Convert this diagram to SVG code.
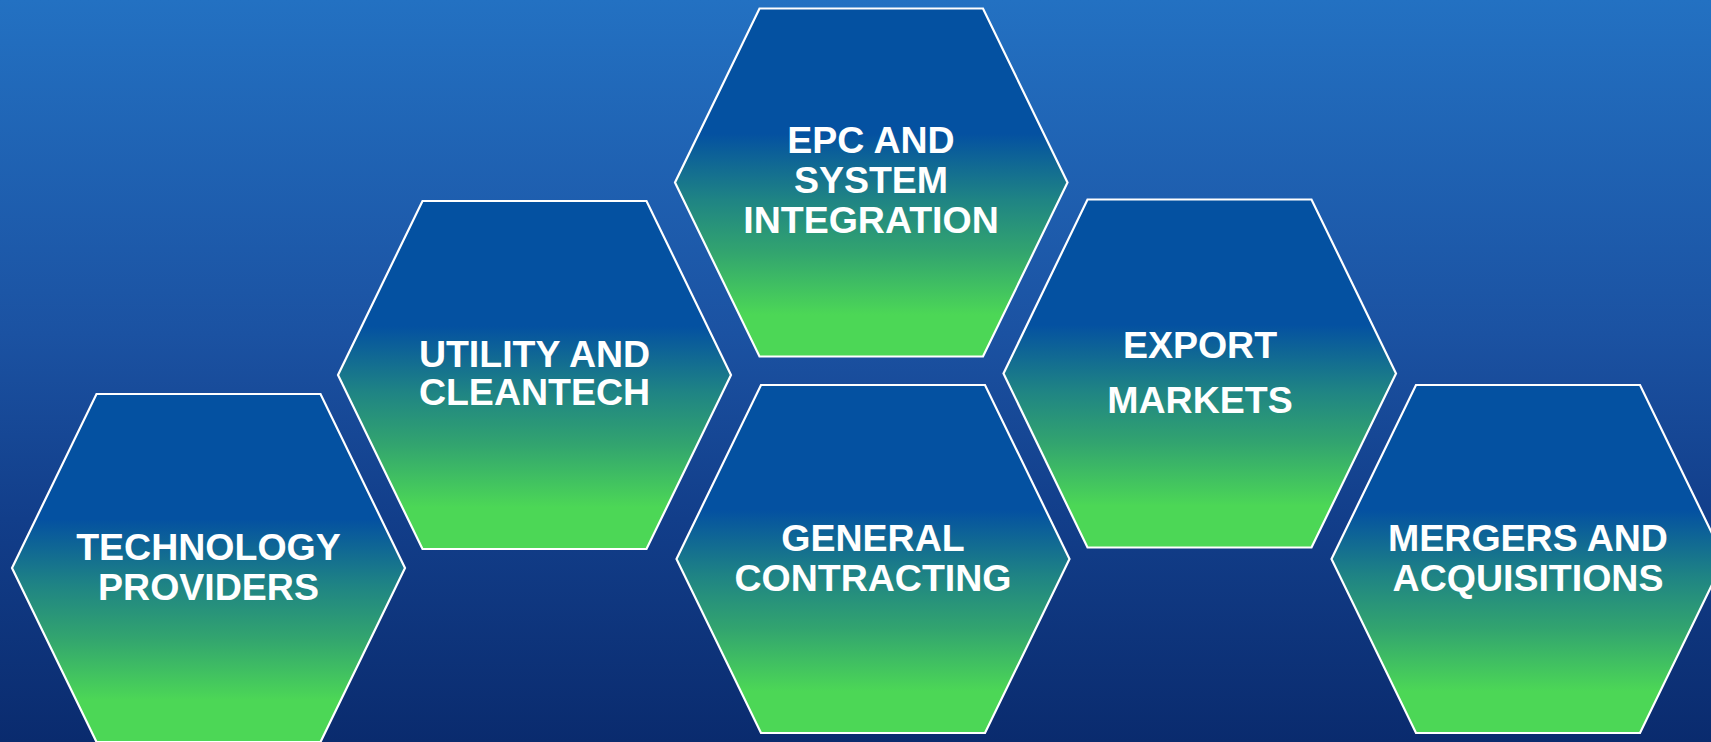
<svg xmlns="http://www.w3.org/2000/svg" width="1711" height="742" viewBox="0 0 1711 742">
<defs>
<linearGradient id="bg" x1="0" y1="0" x2="0" y2="1">
<stop offset="0" stop-color="#2371C2"/>
<stop offset="0.45" stop-color="#1B52A2"/>
<stop offset="0.7" stop-color="#123E8A"/>
<stop offset="1" stop-color="#0A2B6E"/>
</linearGradient>
<linearGradient id="hex" x1="0" y1="0" x2="0" y2="1">
<stop offset="0" stop-color="#0451A1"/>
<stop offset="0.36" stop-color="#0451A1"/>
<stop offset="0.55" stop-color="#1F8484"/>
<stop offset="0.7" stop-color="#32A46F"/>
<stop offset="0.88" stop-color="#4CD756"/>
<stop offset="1" stop-color="#4CD756"/>
</linearGradient>
</defs>
<style>
.hx{fill:url(#hex);stroke:#FFFFFF;stroke-width:2.2;stroke-linejoin:miter}
.lbl{font-family:"Liberation Sans",Arial,sans-serif;font-weight:bold;font-size:37.5px;fill:#FFFFFF;text-anchor:middle}
</style>
<rect x="0" y="0" width="1711" height="742" fill="url(#bg)"/>
<g id="connectors"/>
<g id="node-technology">
<polygon class="hx" points="12,568 96.5,394 320.5,394 405,568 320.5,742 96.5,742"/>
<text class="lbl" x="208.5" y="560">TECHNOLOGY</text>
<text class="lbl" x="208.5" y="600">PROVIDERS</text>
</g>
<g id="node-utility">
<polygon class="hx" points="338,375 422.5,201 646.5,201 731,375 646.5,549 422.5,549"/>
<text class="lbl" x="534.5" y="367">UTILITY AND</text>
<text class="lbl" x="534.5" y="405">CLEANTECH</text>
</g>
<g id="node-epc">
<polygon class="hx" points="675,182.5 759.5,8.5 983,8.5 1067.5,182.5 983,356.5 759.5,356.5"/>
<text class="lbl" x="871" y="153">EPC AND</text>
<text class="lbl" x="871" y="193">SYSTEM</text>
<text class="lbl" x="871" y="233">INTEGRATION</text>
</g>
<g id="node-general">
<polygon class="hx" points="676.5,559 761,385 985,385 1069.5,559 985,733 761,733"/>
<text class="lbl" x="873" y="551">GENERAL</text>
<text class="lbl" x="873" y="591">CONTRACTING</text>
</g>
<g id="node-export">
<polygon class="hx" points="1003.5,373.5 1087.5,199.5 1311.5,199.5 1396,373.5 1311.5,547.5 1087.5,547.5"/>
<text class="lbl" x="1200" y="358">EXPORT</text>
<text class="lbl" x="1200" y="413">MARKETS</text>
</g>
<g id="node-mergers">
<polygon class="hx" points="1331.5,559 1416,385 1640,385 1724.5,559 1640,733 1416,733"/>
<text class="lbl" x="1528" y="551">MERGERS AND</text>
<text class="lbl" x="1528" y="591">ACQUISITIONS</text>
</g>
</svg>
